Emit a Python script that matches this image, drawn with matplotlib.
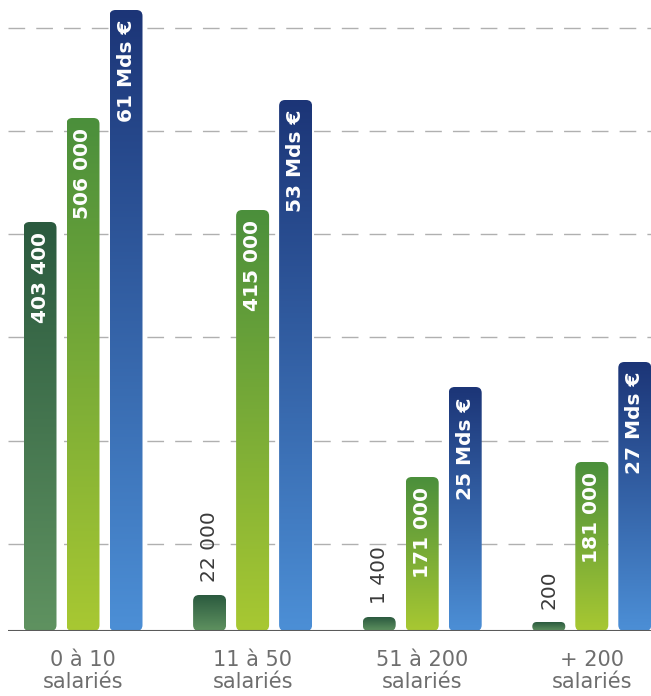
import matplotlib
matplotlib.use('Agg')
import matplotlib.pyplot as plt
import numpy as np
from matplotlib.patches import FancyBboxPatch
from matplotlib.colors import LinearSegmentedColormap

categories = ['0 à 10\nsalariés', '11 à 50\nsalariés', '51 à 200\nsalariés', '+ 200\nsalariés']

# value labels for each series
labels_dark = ['403 400', '22 000', '1 400', '200']
labels_green = ['506 000', '415 000', '171 000', '181 000']
labels_blue = ['61 Mds €', '53 Mds €', '25 Mds €', '27 Mds €']

# bar heights as drawn in the picture (series have different units)
height_dark = [409, 36, 14, 9]
height_green = [513, 421, 154, 169]
height_blue = [621, 531, 244, 269]

gridlines = [87, 190, 294, 397, 500, 603]

# gradient colours (top, bottom)
grad_dark = ['#2b5a3f', '#5f9260']
grad_green = ['#4b8f3c', '#a8c832']
grad_blue = ['#1c3577', '#4c8fd6']

fig = plt.figure(figsize=(6.51, 6.96), dpi=100)
ax = fig.add_axes([8 / 651, 65 / 696, 643 / 651, 631 / 696])
ax.set_xlim((8 - 83) / 169.6, (651 - 83) / 169.6)
ax.set_ylim(0, 631)
ax.axis('off')

for g in gridlines:
    ax.axhline(g, color='#b0b0b0', linewidth=1, linestyle=(0, (12, 8)), zorder=0)
ax.axhline(0, color='#5a5a5a', linewidth=1.5, zorder=5)

bar_w = 33 / 169.6
offset = 43 / 169.6
px_per_x = 169.6  # pixels per x unit (y units are pixels)

def draw_bar(x, h, colors, label):
    x0 = x - bar_w / 2
    r_px = min(6, h / 2)
    patch = FancyBboxPatch((x0, 0), bar_w, h,
                           boxstyle=f'round,pad=0,rounding_size={r_px / px_per_x}',
                           mutation_aspect=px_per_x, facecolor='none', edgecolor='none')
    ax.add_patch(patch)
    cmap = LinearSegmentedColormap.from_list('g', [colors[1], colors[0]])
    grad = np.linspace(0, 1, 256).reshape(-1, 1)
    im = ax.imshow(grad, cmap=cmap, extent=[x0, x0 + bar_w, 0, h], origin='lower',
                   aspect='auto', zorder=2)
    im.set_clip_path(patch)
    if h > 120:
        ax.text(x, h - 10, label, rotation=90, ha='center', va='top', color='white',
                fontsize=14.5, fontweight='bold', zorder=3)
    else:
        ax.text(x, h + 13, label, rotation=90, ha='center', va='bottom', color='#3a3a3a',
                fontsize=14.5, zorder=3)

for i in range(len(categories)):
    draw_bar(i - offset, height_dark[i], grad_dark, labels_dark[i])
    draw_bar(i, height_green[i], grad_green, labels_green[i])
    draw_bar(i + offset, height_blue[i], grad_blue, labels_blue[i])
    ax.text(i, -19, categories[i], ha='center', va='top', color='#6e6e6e',
            fontsize=15, linespacing=1.12, clip_on=False)

ax.set_xlim((8 - 83) / 169.6, (651 - 83) / 169.6)
ax.set_ylim(0, 631)

fig.savefig('out.png', dpi=100)
